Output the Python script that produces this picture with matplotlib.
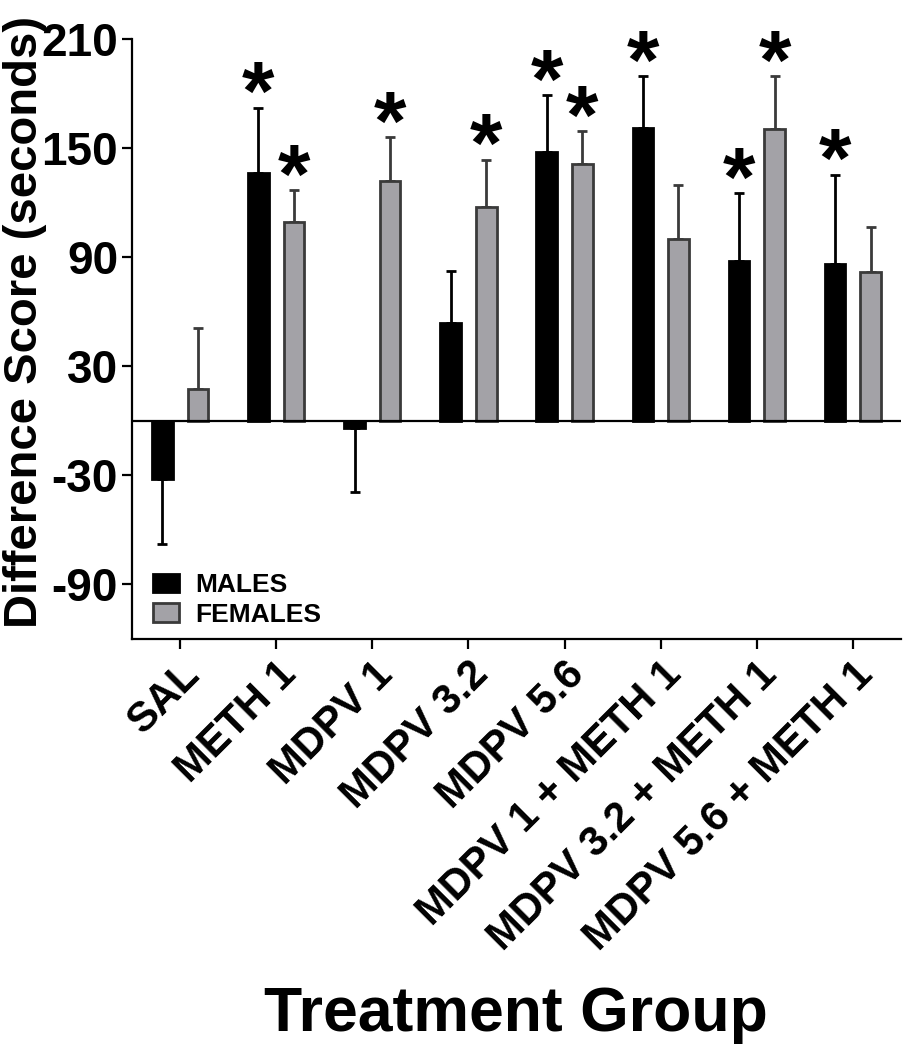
import matplotlib
matplotlib.use("Agg")
import matplotlib.pyplot as plt
import numpy as np
from matplotlib.patches import Patch

plt.rcParams['font.family'] = ['Liberation Sans', 'DejaVu Sans']

groups = ["SAL", "METH 1", "MDPV 1", "MDPV 3.2", "MDPV 5.6",
          "MDPV 1 + METH 1", "MDPV 3.2 + METH 1", "MDPV 5.6 + METH 1"]
males = [-32.0, 135.9, -3.8, 53.7, 147.6, 161.0, 87.6, 86.3]
males_err = [36.0, 36.1, 35.6, 28.4, 31.2, 28.4, 37.6, 48.8]
females = [17.5, 109.0, 132.0, 117.3, 141.2, 100.1, 160.5, 81.5]
females_err = [33.4, 17.7, 23.8, 26.1, 17.8, 29.3, 28.9, 24.8]
males_sig = [False, True, False, False, True, True, True, True]
females_sig = [False, True, True, True, True, False, True, False]
yticks = [-90, -30, 30, 90, 150, 210]

male_color = "#000000"
female_color = "#a3a2a7"
female_edge = "#3a3a3a"

fig = plt.figure(figsize=(9.04, 10.5), dpi=100)
ax = fig.add_axes([132/904, 1-639/1050, (901-132)/904, (639-38.6)/1050])

x = np.arange(len(groups))
off = 0.185
w = 0.215

def draw(xpos, vals, errs, color, edge, ecol):
    ax.bar(xpos, vals, width=w, color=color, edgecolor=edge, linewidth=2.0, zorder=2)
    for xi, v, e in zip(xpos, vals, errs):
        lo = [0] if v >= 0 else [e]
        hi = [e] if v >= 0 else [0]
        ax.errorbar([xi], [v], yerr=[lo, hi], fmt='none', ecolor=ecol,
                    elinewidth=2.0, capsize=3.3, capthick=2.0, zorder=1)

draw(x - off, males, males_err, male_color, male_color, "#000000")
draw(x + off, females, females_err, female_color, female_edge, "#3a3a3a")

def star(xi, top):
    ax.annotate("*", xy=(xi, top), xytext=(0, -9), textcoords="offset points",
                ha="center", va="baseline", fontsize=60, fontweight="bold")

for xi, v, e, s in zip(x - off, males, males_err, males_sig):
    if s:
        star(xi, v + e)
for xi, v, e, s in zip(x + off, females, females_err, females_sig):
    if s:
        star(xi, v + e)

ax.axhline(0, color="black", linewidth=1.6, zorder=3)

ax.set_xlim(-0.5, len(groups) - 0.5)
ax.set_ylim(-120, 210)
ax.set_yticks(yticks)
ax.set_yticklabels([str(t) for t in yticks], fontsize=33, fontweight="bold")
ax.set_xticks(x)
ax.set_xticklabels(groups, rotation=45, ha="right", rotation_mode="anchor",
                   fontsize=30, fontweight="bold")
ax.tick_params(axis="x", length=7, width=1.6, pad=4)
ax.tick_params(axis="y", length=7, width=1.6, pad=3)

for sp in ["top", "right"]:
    ax.spines[sp].set_visible(False)
for sp in ["left", "bottom"]:
    ax.spines[sp].set_linewidth(1.6)

handles = [Patch(facecolor=male_color, edgecolor=male_color, linewidth=2, label="MALES"),
           Patch(facecolor=female_color, edgecolor=female_edge, linewidth=2, label="FEMALES")]
leg = ax.legend(handles=handles, loc="lower left", bbox_to_anchor=(0.0135, 0.003),
                borderaxespad=0, frameon=False, prop={"size": 19, "weight": "bold"},
                handlelength=1.0, handleheight=0.7, handletextpad=0.6, labelspacing=0.2)

fig.text(25/904, 1-322/1050, "Difference Score (seconds)", rotation=90,
         ha="center", va="center", fontsize=34, fontweight="bold")
fig.text(516/904, 1-1014/1050, "Treatment Group", ha="center", va="center",
         fontsize=45, fontweight="bold")

fig.savefig("out.png", dpi=100)
